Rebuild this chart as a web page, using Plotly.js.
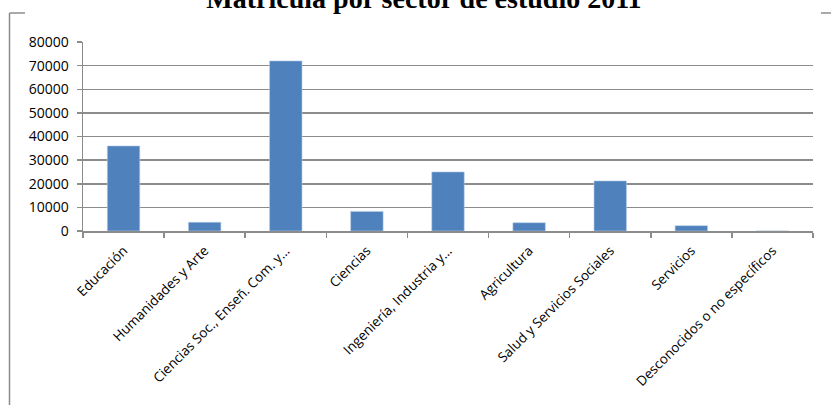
<!DOCTYPE html>
<html>
<head>
<meta charset="utf-8">
<script src="https://cdn.plot.ly/plotly-3.0.1.min.js"></script>
<style>html,body{margin:0;padding:0;background:#fff;}#chart{width:831px;height:405px;}</style>
</head>
<body>
<div id="chart"></div>
<script>
const categories = ["Educación","Humanidades y Arte","Ciencias Soc., Enseñ. Com. y…","Ciencias","Ingeniería, Industria y…","Agricultura","Salud y Servicios Sociales","Servicios","Desconocidos o no específicos"];
const values = [36000, 3700, 72000, 8300, 25000, 3500, 21200, 2250, 0];
const yTicks = [0,10000,20000,30000,40000,50000,60000,70000,80000];
const titleText = "Matrícula por sector de estudio 2011";

const W = 831, H = 405;
const M = {l: 83, r: 18, t: 42, b: 174};
const pw = W - M.l - M.r, ph = H - M.t - M.b;
const px = x => (x - M.l) / pw;
const py = y => (H - M.b - y) / ph;
const grey = "#8c8c8c";

const trace = {
  type: "bar",
  x: categories,
  y: values,
  marker: {color: "#4f81bd", line: {color: "#b9cde5", width: 0.6}},
  hoverinfo: "x+y"
};

const layout = {
  width: W, height: H,
  margin: M,
  paper_bgcolor: "#fff", plot_bgcolor: "#fff",
  bargap: 0.6,
  showlegend: false,
  font: {family: "Open Sans, sans-serif", size: 13, color: "#000"},
  title: {
    text: "<b>" + titleText + "</b>",
    font: {family: "Liberation Serif, Times New Roman, serif", size: 28, color: "#000"},
    x: 424 / W, xanchor: "center",
    y: 1 - 8 / H, yanchor: "bottom", yref: "container"
  },
  xaxis: {
    type: "category",
    tickangle: -45,
    tickson: "boundaries",
    ticks: "outside", ticklen: 5, tickcolor: grey, tickwidth: 1.5,
    ticklabelstandoff: 5,
    showline: true, linecolor: grey, linewidth: 1.5,
    showgrid: false,
    tickfont: {family: "Open Sans, sans-serif", size: 13.5, color: "#000"},
    fixedrange: true
  },
  yaxis: {
    range: [0, 80000],
    tickvals: yTicks,
    ticktext: yTicks.map(String),
    ticks: "outside", ticklen: 5, tickcolor: grey, tickwidth: 1.5,
    ticklabelstandoff: 5,
    showline: true, linecolor: grey, linewidth: 1.5,
    showgrid: true, gridcolor: grey, gridwidth: 1.5,
    zeroline: false,
    tickfont: {family: "Open Sans, sans-serif", size: 14, color: "#000"},
    fixedrange: true
  },
  shapes: [
    {type: "line", xref: "paper", yref: "paper", x0: px(9.5), x1: px(9.5), y0: py(13), y1: py(406), line: {color: grey, width: 1.5}},
    {type: "line", xref: "paper", yref: "paper", x0: px(9.5), x1: px(25), y0: py(13), y1: py(13), line: {color: grey, width: 1.5}},
    {type: "line", xref: "paper", yref: "paper", x0: px(821), x1: px(832), y0: py(13), y1: py(13), line: {color: grey, width: 1.5}}
  ]
};

Plotly.newPlot("chart", [trace], layout, {displayModeBar: false, staticPlot: true});
</script>
</body>
</html>
